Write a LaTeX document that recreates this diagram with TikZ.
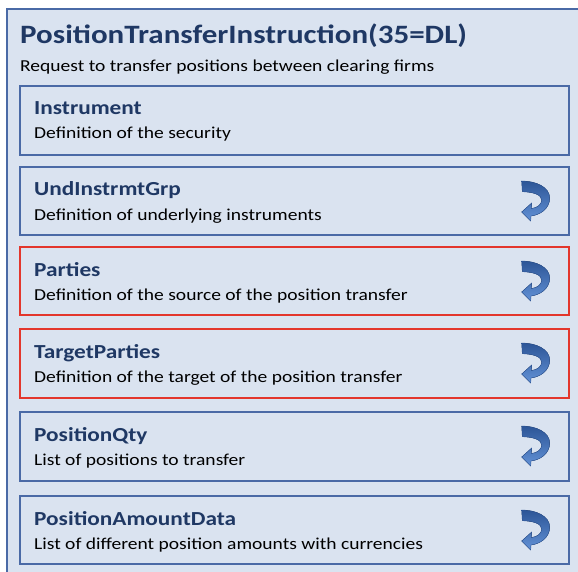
\documentclass[tikz,border=0pt]{standalone}
\usepackage{fontspec}
\setmainfont{Carlito}[FakeStretch=1.17]
\definecolor{panelfill}{HTML}{DAE3F0}
\definecolor{frameblue}{HTML}{4A6AA6}
\definecolor{framered}{HTML}{E3362C}
\definecolor{headnavy}{HTML}{1F3864}
\definecolor{arrowdark}{HTML}{2C5597}
\definecolor{arrowlight}{HTML}{6392D6}
\tikzset{
  outerpanel/.style={draw=frameblue, line width=2.2pt, fill=panelfill},
  compbox/.style={draw=frameblue, line width=1.8pt, fill=panelfill},
  redbox/.style={draw=framered, line width=1.8pt, fill=panelfill},
  maintitle/.style={anchor=base west, inner sep=0pt, text=headnavy, font=\fontsize{26.5}{30}\selectfont\bfseries},
  maintext/.style={anchor=base west, inner sep=0pt, text=black, font=\fontsize{16.7}{20}\selectfont},
  comptitle/.style={anchor=base west, inner sep=0pt, text=headnavy, font=\fontsize{19.9}{23}\selectfont\bfseries},
  comptext/.style={anchor=base west, inner sep=0pt, text=black, font=\fontsize{16.7}{20}\selectfont},
  repeatarrow/.pic={
    \fill[top color=arrowdark, bottom color=arrowlight, draw=arrowdark, line width=0.4pt]
      (0,0) .. controls (14,0) and (28,6) .. (28,17)
      .. controls (28,28) and (18,34) .. (9.3,35)
      -- (9,40) -- (0,31) -- (10,22) -- (9.7,27.5)
      .. controls (16,27) and (20,23) .. (20,19)
      .. controls (20,14) and (12,11) .. (0.6,10.7) -- cycle;
  }
}
\begin{document}
\begin{tikzpicture}[x=1pt, y=-1pt]
  \useasboundingbox (0,0) rectangle (578,572);
  \clip (0,0) rectangle (578,572);
  \fill[white] (0,0) rectangle (578,572);
  % message frame
  \draw[outerpanel] (7,9) rectangle (600,600);
  \node[maintitle] (msgname) at (20,44) {PositionTransferInstruction(35=DL)};
  \node[maintext] (msgdesc) at (20,72) {Request to transfer positions between clearing firms};

  % components
  \draw[compbox] (20,86) rectangle (569,155);
  \node[comptitle] (instr) at (34,115) {Instrument};
  \node[comptext] (instrd) at (34,139) {Definition of the security};

  \draw[compbox] (20,167) rectangle (569,235);
  \node[comptitle] (und) at (34,196) {UndInstrmtGrp};
  \node[comptext] (undd) at (34,220) {Definition of underlying instruments};
  \pic at (521.7,181) {repeatarrow};

  \draw[redbox] (20,247) rectangle (569,315);
  \node[comptitle] (pty) at (34,276) {Parties};
  \node[comptext] (ptyd) at (34,300) {Definition of the source of the position transfer};
  \pic at (521.7,261) {repeatarrow};

  \draw[redbox] (20,329) rectangle (569,398);
  \node[comptitle] (tpty) at (34,358) {TargetParties};
  \node[comptext] (tptyd) at (34,382) {Definition of the target of the position transfer};
  \pic at (521.7,343) {repeatarrow};

  \draw[compbox] (20,412) rectangle (569,481);
  \node[comptitle] (pqty) at (34,441) {PositionQty};
  \node[comptext] (pqtyd) at (34,465) {List of positions to transfer};
  \pic at (521.7,426) {repeatarrow};

  \draw[compbox] (20,496) rectangle (569,564);
  \node[comptitle] (pamt) at (34,525) {PositionAmountData};
  \node[comptext] (pamtd) at (34,549) {List of different position amounts with currencies};
  \pic at (521.7,510) {repeatarrow};
\end{tikzpicture}
\end{document}
